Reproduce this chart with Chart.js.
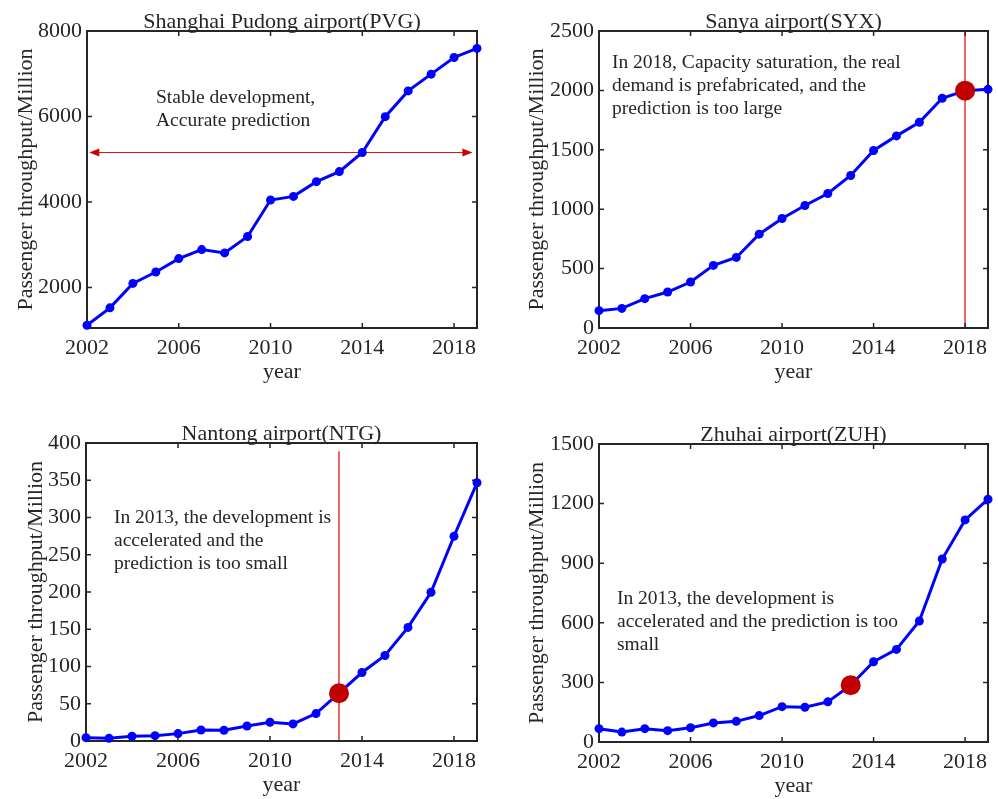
<!DOCTYPE html>
<html>
<head>
<meta charset="utf-8">
<script src="https://cdn.jsdelivr.net/npm/chart.js@4.4.0/dist/chart.umd.min.js"></script>
<style>
html, body { margin: 0; padding: 0; background: #fff; width: 998px; height: 799px; overflow: hidden; }
canvas { position: absolute; }
</style>
</head>
<body>
<canvas id="pvg" width="499" height="399" style="left:0;top:0"></canvas>
<canvas id="syx" width="499" height="399" style="left:499px;top:0"></canvas>
<canvas id="ntg" width="499" height="399" style="left:0;top:400px"></canvas>
<canvas id="zuh" width="499" height="399" style="left:499px;top:400px"></canvas>
<script>
// data
var years = [2002, 2003, 2004, 2005, 2006, 2007, 2008, 2009, 2010, 2011, 2012, 2013, 2014, 2015, 2016, 2017, 2018, 2019];
var pvgValues = [1115, 1522, 2094, 2360, 2674, 2885, 2807, 3190, 4044, 4130, 4475, 4710, 5157, 5995, 6598, 6990, 7381, 7593];
var syxValues = [146, 165, 247, 303, 387, 527, 594, 790, 922, 1031, 1132, 1284, 1494, 1617, 1732, 1934, 1998, 2009];
var ntgValues = [4.5, 3.6, 6.3, 7.2, 9.9, 14.8, 14.4, 20.2, 25.1, 22.9, 36.8, 64.1, 91.9, 114.8, 152.5, 199.6, 274.9, 346.6];
var zuhValues = [67, 50, 67, 57, 72, 96, 104, 133, 178, 175, 202, 286, 404, 466, 609, 921, 1118, 1222];

var yearTicks = [2002, 2006, 2010, 2014, 2018];
var pvgTicks = [2000, 4000, 6000, 8000];
var syxTicks = [0, 500, 1000, 1500, 2000, 2500];
var ntgTicks = [0, 50, 100, 150, 200, 250, 300, 350, 400];
var zuhTicks = [0, 300, 600, 900, 1200, 1500];

var FONT = "'Liberation Serif', 'Times New Roman', serif";
var INK = '#262626';
var RED = '#e81010';

// frame, inward ticks, title and notes, drawn like the matlab axes
var framePlugin = {
    id: 'frame',
    beforeDatasetsDraw: function (chart) {
        var o = chart.options.plugins.frame;
        var a = chart.chartArea, ctx = chart.ctx;
        var xs = chart.scales.x, ys = chart.scales.y;
        ctx.save();

        if (o.vline) {
            var vx = Math.round(xs.getPixelForValue(o.vline.x));
            ctx.strokeStyle = RED;
            ctx.lineWidth = 1.3;
            ctx.beginPath();
            ctx.moveTo(vx, ys.getPixelForValue(o.vline.to));
            ctx.lineTo(vx, ys.getPixelForValue(o.vline.from));
            ctx.stroke();
        }
        if (o.arrow) {
            var ay = Math.round(ys.getPixelForValue(o.arrow.y)) + 0.5;
            var x0 = xs.getPixelForValue(o.arrow.from), x1 = xs.getPixelForValue(o.arrow.to);
            ctx.strokeStyle = RED;
            ctx.fillStyle = '#d00000';
            ctx.lineWidth = 1;
            ctx.beginPath();
            ctx.moveTo(x0 + 8, ay);
            ctx.lineTo(x1 - 8, ay);
            ctx.stroke();
            ctx.beginPath();
            ctx.moveTo(x0, ay); ctx.lineTo(x0 + 10, ay - 4); ctx.lineTo(x0 + 10, ay + 4); ctx.closePath();
            ctx.moveTo(x1, ay); ctx.lineTo(x1 - 10, ay - 4); ctx.lineTo(x1 - 10, ay + 4); ctx.closePath();
            ctx.fill();
        }

        ctx.strokeStyle = INK;
        ctx.lineWidth = 2;
        ctx.strokeRect(a.left, a.top, a.right - a.left, a.bottom - a.top);
        ctx.lineWidth = 1.5;
        ctx.beginPath();
        xs.ticks.forEach(function (t) {
            var px = xs.getPixelForValue(t.value);
            if (px <= a.left + 1 || px >= a.right - 1) return;
            ctx.moveTo(px, a.bottom); ctx.lineTo(px, a.bottom - 5);
            ctx.moveTo(px, a.top); ctx.lineTo(px, a.top + 5);
        });
        ys.ticks.forEach(function (t) {
            var py = ys.getPixelForValue(t.value);
            if (py <= a.top + 1 || py >= a.bottom - 1) return;
            ctx.moveTo(a.left, py); ctx.lineTo(a.left + 5, py);
            ctx.moveTo(a.right, py); ctx.lineTo(a.right - 5, py);
        });
        ctx.stroke();

        ctx.fillStyle = INK;
        ctx.textBaseline = 'middle';
        ctx.textAlign = 'center';
        ctx.font = '22px ' + FONT;
        ctx.fillText(o.title, (a.left + a.right) / 2, a.top - 9);

        ctx.textAlign = 'left';
        ctx.font = '19.5px ' + FONT;
        o.note.lines.forEach(function (s, i) {
            ctx.fillText(s, a.left + o.note.dx, a.top + o.note.dy + i * o.note.lh);
        });
        ctx.restore();
    }
};

function airportChart(id, values, yMin, yMax, yTicks, hiYear, frame, pad, yTitlePad) {
    var points = years.map(function (y, i) { return { x: y, y: values[i] }; });
    var datasets = [];
    if (hiYear) {
        datasets.push({
            data: [{ x: hiYear, y: values[years.indexOf(hiYear)] }],
            showLine: false, pointRadius: 10, pointBorderWidth: 0,
            pointBackgroundColor: '#c00000', borderColor: '#c00000',
            order: 0, clip: false
        });
    }
    datasets.push({
        data: points, borderColor: '#0000ff', borderWidth: 3,
        pointRadius: 4.5, pointBorderWidth: 0, pointBackgroundColor: '#0000ff',
        tension: 0, order: 1, clip: false
    });

    return new Chart(document.getElementById(id).getContext('2d'), {
        type: 'line',
        data: { datasets: datasets },
        plugins: [framePlugin],
        options: {
            responsive: false,
            animation: false,
            events: [],
            layout: { padding: pad },
            plugins: { legend: { display: false }, tooltip: { enabled: false }, frame: frame },
            scales: {
                x: {
                    type: 'linear', min: 2002, max: 2019,
                    afterBuildTicks: function (s) { s.ticks = yearTicks.map(function (v) { return { value: v }; }); },
                    afterFit: function (s) { s.height = 55; },
                    grid: { display: false, drawTicks: false }, border: { display: false },
                    ticks: {
                        autoSkip: false, maxRotation: 0, padding: 7.5, color: INK,
                        font: { family: FONT, size: 22 },
                        callback: function (v) { return String(v); }
                    },
                    title: { display: true, text: 'year', color: INK, font: { family: FONT, size: 22, lineHeight: 0.8 }, padding: { top: 0, bottom: 2 } }
                },
                y: {
                    min: yMin, max: yMax,
                    afterBuildTicks: function (s) { s.ticks = yTicks.map(function (v) { return { value: v }; }); },
                    afterFit: function (s) { s.width = pad.yWidth; },
                    grid: { display: false, drawTicks: false }, border: { display: false },
                    ticks: {
                        padding: 5, color: INK,
                        font: { family: FONT, size: 22 },
                        callback: function (v) { return String(v); }
                    },
                    title: { display: true, text: 'Passenger throughput/Million', color: INK, font: { family: FONT, size: 22 }, padding: { top: yTitlePad, bottom: 0 } }
                }
            }
        }
    });
}

airportChart('pvg', pvgValues, 1050, 8000, pvgTicks, null, {
    title: 'Shanghai Pudong airport(PVG)',
    arrow: { y: 5170, from: 2002.1, to: 2018.8 },
    note: { dx: 69, dy: 67, lh: 23, lines: ['Stable development,', 'Accurate prediction'] }
}, { left: 0, right: 22, top: 31, bottom: 16, yWidth: 87 }, 12.8);

airportChart('syx', syxValues, 0, 2500, syxTicks, 2018, {
    title: 'Sanya airport(SYX)',
    vline: { x: 2018, from: 0, to: 2500 },
    note: { dx: 13, dy: 32, lh: 23, lines: ['In 2018, Capacity saturation, the real', 'demand is prefabricated, and the', 'prediction is too large'] }
}, { left: 0, right: 9, top: 31, bottom: 16, yWidth: 100 }, 25.3);

airportChart('ntg', ntgValues, 0, 400, ntgTicks, 2013, {
    title: 'Nantong airport(NTG)',
    vline: { x: 2013, from: 0, to: 389 },
    note: { dx: 28, dy: 75, lh: 22.7, lines: ['In 2013, the development is', 'accelerated and the', 'prediction is too small'] }
}, { left: 0, right: 22, top: 43, bottom: 3, yWidth: 86 }, 22.8);

airportChart('zuh', zuhValues, 0, 1500, zuhTicks, 2013, {
    title: 'Zhuhai airport(ZUH)',
    note: { dx: 18, dy: 155, lh: 23, lines: ['In 2013, the development is', 'accelerated and the prediction is too', 'small'] }
}, { left: 0, right: 9, top: 44, bottom: 2, yWidth: 100 }, 25.3);
</script>
</body>
</html>
